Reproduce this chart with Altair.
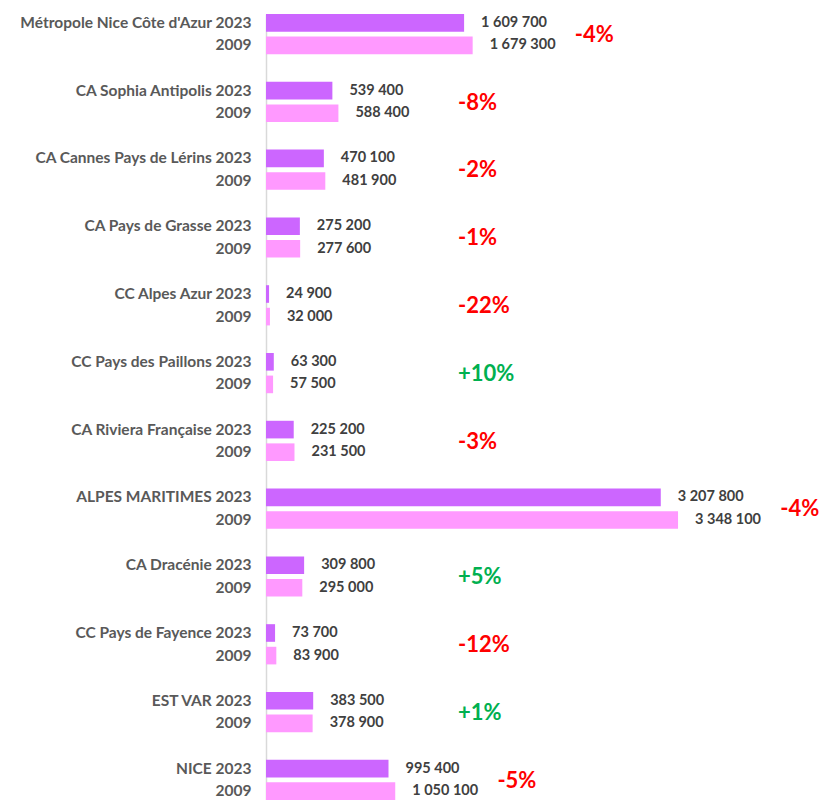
import altair as alt
import pandas as pd

groups = [
    "Métropole Nice Côte d'Azur", "CA Sophia Antipolis", "CA Cannes Pays de Lérins",
    "CA Pays de Grasse", "CC Alpes Azur", "CC Pays des Paillons", "CA Riviera Française",
    "ALPES MARITIMES", "CA Dracénie", "CC Pays de Fayence", "EST VAR", "NICE",
]
v2023 = [1609700, 539400, 470100, 275200, 24900, 63300, 225200, 3207800, 309800, 73700, 383500, 995400]
v2009 = [1679300, 588400, 481900, 277600, 32000, 57500, 231500, 3348100, 295000, 83900, 378900, 1050100]


def fmt(v):
    return f"{v:,}".replace(",", " ")


domain = []
rows = []
pct_rows = []
for i, g in enumerate(groups):
    k23 = f"{g} 2023|{i}a"
    k09 = f"2009|{i}b"
    domain += [k23, k09]
    if i < len(groups) - 1:
        domain.append(f"|{i}c")
    rows.append({"key": k23, "year": "2023", "value": v2023[i], "txt": fmt(v2023[i])})
    rows.append({"key": k09, "year": "2009", "value": v2009[i], "txt": fmt(v2009[i])})
    ch = round((v2023[i] / v2009[i] - 1) * 100)
    pct_rows.append({"key": k23, "change": ch, "pct": f"{ch:+d}%", "v23": v2023[i], "v09": v2009[i]})

df = pd.DataFrame(rows)
dp = pd.DataFrame(pct_rows)

FONT = "Lato"
xscale = alt.Scale(domain=[0, 4526000])
yscale = alt.Scale(domain=domain, paddingInner=0.22, paddingOuter=0)

yaxis = alt.Axis(
    title=None, ticks=False, labelFont=FONT, labelFontSize=15.5, labelFontWeight="bold",
    labelColor="#595959", labelPadding=15, labelLimit=400, domainColor="#d9d9d9",
    domainWidth=1.5, minExtent=253, maxExtent=253, grid=False,
    labelExpr="split(datum.value, '|')[0]",
)

bars = alt.Chart(df).mark_bar().encode(
    y=alt.Y("key:N", scale=yscale, axis=yaxis),
    x=alt.X("value:Q", scale=xscale, axis=None),
    color=alt.Color("year:N", scale=alt.Scale(domain=["2023", "2009"], range=["#CC66FF", "#FF99FF"]), legend=None),
)

values = alt.Chart(df).mark_text(
    align="left", baseline="middle", dx=17, font=FONT, fontSize=14.5, fontWeight="bold", color="#404040"
).encode(
    y=alt.Y("key:N", scale=yscale),
    x=alt.X("value:Q", scale=xscale, axis=None),
    text="txt:N",
)

pct = alt.Chart(dp).transform_calculate(
    anchor="max(max(datum.v23, datum.v09) + 830000, 1560000)"
).mark_text(
    align="left", baseline="middle", dy=12, font=FONT, fontSize=22, fontWeight="bold"
).encode(
    y=alt.Y("key:N", scale=yscale),
    x=alt.X("anchor:Q", scale=xscale, axis=None),
    text="pct:N",
    color=alt.condition("datum.change < 0", alt.value("#FF0000"), alt.value("#00B050")),
)

chart = alt.layer(bars, values, pct).properties(
    width=557, height=786,
    padding={"left": 5, "top": 6, "right": 0, "bottom": 0},
    background="white",
).configure_view(stroke=None)

chart.save("out.html", embed_options={"renderer": "svg", "actions": False})
